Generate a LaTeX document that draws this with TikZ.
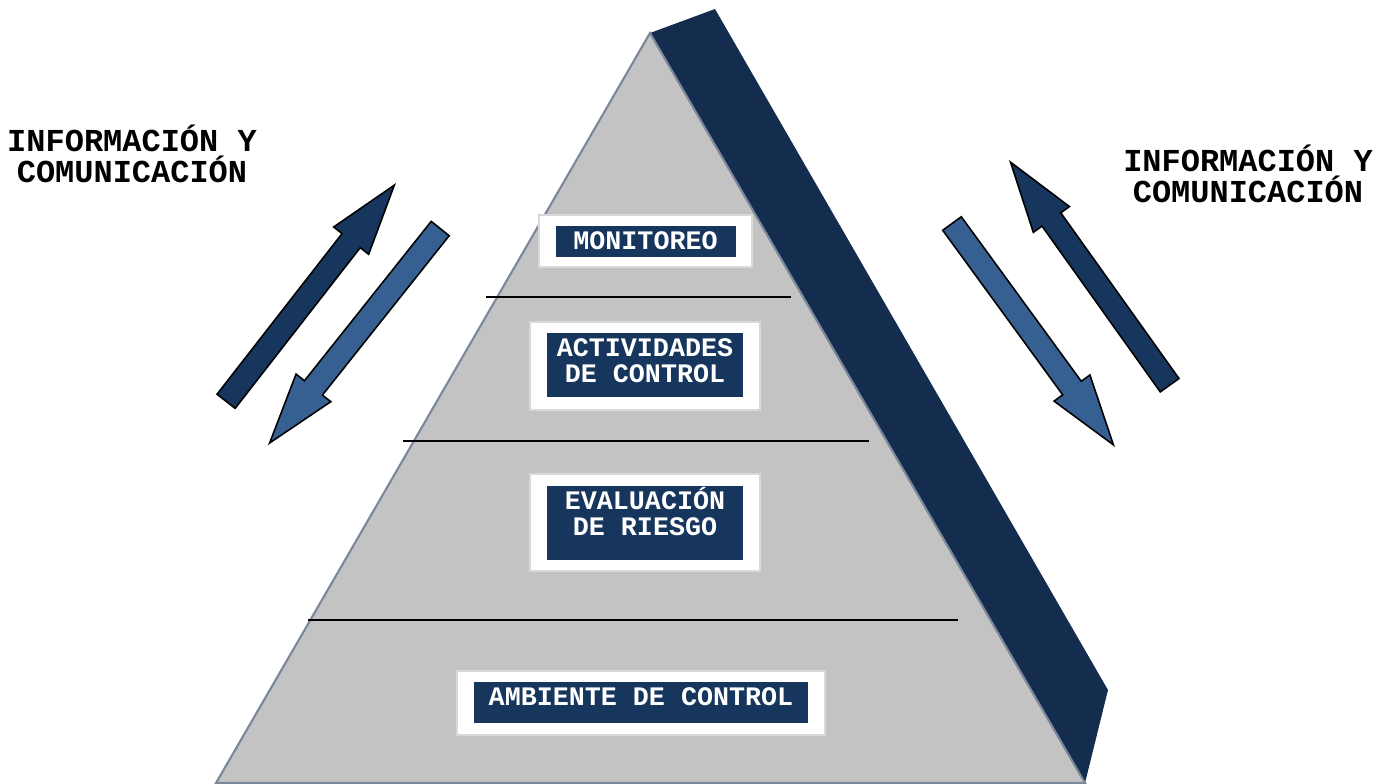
\documentclass[tikz,border=0pt]{standalone}
\usepackage{fontspec}
\newfontfamily\mono{Liberation Mono}
\usetikzlibrary{shapes.arrows,positioning}
\definecolor{grisPir}{HTML}{C3C3C3}
\definecolor{bordePir}{HTML}{7B879A}
\definecolor{ladoPir}{HTML}{142D4E}
\definecolor{azulOsc}{HTML}{17365D}
\definecolor{azulClaro}{HTML}{376092}
\definecolor{bordeMarco}{HTML}{D9D9D9}
\begin{document}
\begin{tikzpicture}[x=0.1mm,y=-0.1mm,
  marco/.style={fill=white,draw=bordeMarco,line width=0.3pt,inner sep=0},
  etiqueta/.style={fill=azulOsc,text=white,font=\mono\bfseries\fontsize{7.6}{7.4}\selectfont,align=center,inner xsep=0,inner ysep=0,text height=2.35mm,anchor=north},
  dosLineas/.style={etiqueta,text height=4.95mm},
  titulo/.style={font=\mono\bfseries\fontsize{9.1}{8.8}\selectfont,align=center},
  flecha/.style={single arrow,draw=black,line width=0.45pt,inner xsep=0,inner ysep=1.07mm,single arrow head extend=1.07mm,single arrow tip angle=35,minimum height=27.4mm,anchor=tip},
  divisor/.style={line width=0.6pt}]
\useasboundingbox (0,0) rectangle (1386,783);
\coordinate (apex) at (650,33);
\coordinate (baseIzq) at (216,783);
\coordinate (baseDer) at (1085,783);
\fill[ladoPir] (apex)--(715,9)--(1108,690)--(baseDer)--cycle;
\draw[fill=grisPir,draw=bordePir,line width=0.6pt] (apex)--(baseIzq)--(baseDer)--cycle;
\draw[divisor] (486,297)--(791,297);
\draw[divisor] (403,441)--(869,441);
\draw[divisor] (308,620)--(958,620);

\node[marco,minimum width=21.3mm,minimum height=5.2mm] (monitoreoMarco) at (645.5,241) {};
\node[etiqueta,minimum width=18mm,text depth=0.75mm,below=1.1mm of monitoreoMarco.north] (monitoreo) {MONITOREO};
\node[marco,minimum width=23mm,minimum height=8.8mm] (actividadesMarco) at (645,366) {};
\node[dosLineas,minimum width=19.6mm,text depth=1.45mm,below=1.1mm of actividadesMarco.north] (actividades) {ACTIVIDADES\\DE CONTROL};
\node[marco,minimum width=23mm,minimum height=9.7mm] (evaluacionMarco) at (645,522.5) {};
\node[dosLineas,minimum width=19.6mm,text depth=2.45mm,below=1.2mm of evaluacionMarco.north] (evaluacion) {EVALUACIÓN\\DE RIESGO};
\node[marco,minimum width=36.8mm,minimum height=6.4mm] (ambienteMarco) at (641,703) {};
\node[etiqueta,minimum width=33.4mm,text depth=1.75mm,below=1.1mm of ambienteMarco.north] (ambiente) {AMBIENTE DE CONTROL};

\node[flecha,fill=azulOsc,rotate=52.1] (subeIzq) at (396,183) {};
\node[flecha,fill=azulClaro,rotate=231.5] (bajaIzq) at (268,445) {};
\node[flecha,fill=azulClaro,rotate=-53.9] (bajaDer) at (1115,447) {};
\node[flecha,fill=azulOsc,rotate=125.5] (subeDer) at (1009,160) {};

\node[titulo,anchor=base] (infoIzq) at (132,182) {INFORMACIÓN Y\\COMUNICACIÓN};
\node[titulo,anchor=base] (infoDer) at (1248,202) {INFORMACIÓN Y\\COMUNICACIÓN};
\end{tikzpicture}
\end{document}
